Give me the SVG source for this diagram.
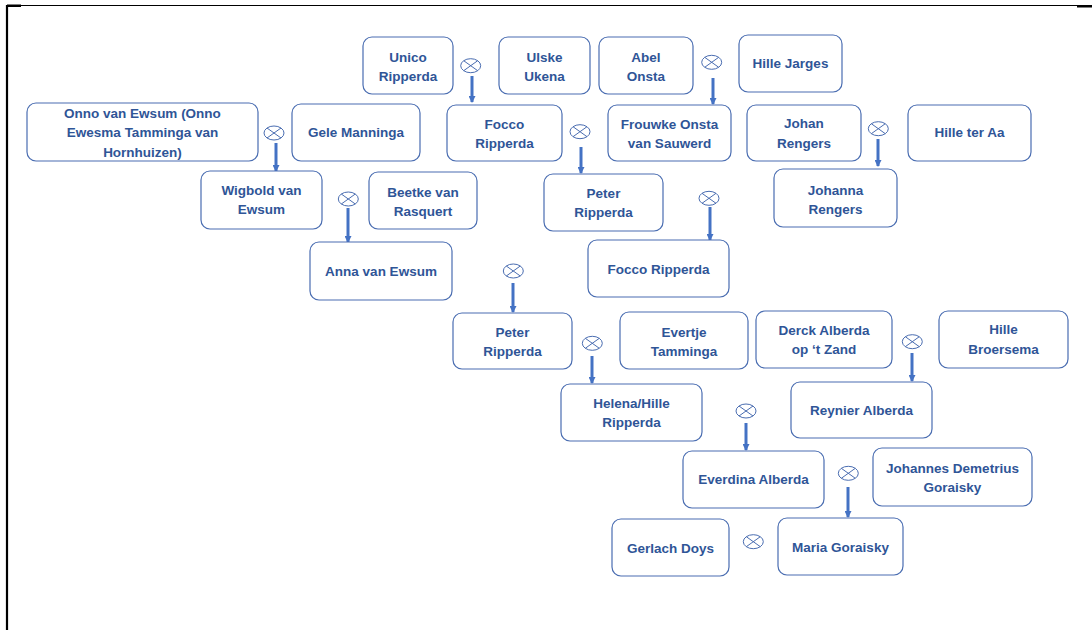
<svg xmlns="http://www.w3.org/2000/svg" width="1092" height="630" viewBox="0 0 1092 630">
<style>
.box{fill:#fff;stroke:#4A6DB1;stroke-width:1.2}
.t{font-family:"Liberation Sans",Arial,sans-serif;font-weight:bold;font-size:13.5px;fill:#2F5597;text-anchor:middle}
.x{fill:none;stroke:#4A6DB1;stroke-width:1}
.arr{stroke:#4472C4;stroke-width:3;fill:none;marker-end:url(#ah)}
.frame{stroke:#000;fill:none}
</style>
<defs>
<marker id="ah" markerUnits="userSpaceOnUse" markerWidth="8" markerHeight="7" refX="6" refY="3.5" orient="auto">
<path d="M0,0 L7,3.5 L0,7 Z" fill="#4472C4"/>
</marker>
<g id="otimes">
<ellipse cx="0" cy="0" rx="10" ry="7" class="x"/>
<path d="M-7,-5 L7,5 M-7,5 L7,-5" class="x"/>
</g>
</defs>
<rect width="1092" height="630" fill="#fff"/>
<g id="frame">
<line x1="7" y1="5" x2="7" y2="630" class="frame" stroke-width="2.2"/>
<line x1="7" y1="5.5" x2="1092" y2="5.5" class="frame" stroke-width="1.2"/>
<rect x="7" y="4.5" width="14" height="2.5" fill="#000"/>
<rect x="1077" y="5" width="15" height="2.5" fill="#000"/>
</g>
<g id="connectors">
<use href="#otimes" x="274" y="133"/>
<use href="#otimes" x="470.7" y="65.7"/>
<use href="#otimes" x="711.7" y="62.3"/>
<use href="#otimes" x="580" y="131.7"/>
<use href="#otimes" x="878.3" y="128.7"/>
<use href="#otimes" x="348.3" y="199"/>
<use href="#otimes" x="709" y="198.3"/>
<use href="#otimes" x="513.3" y="271"/>
<use href="#otimes" x="592.3" y="343.3"/>
<use href="#otimes" x="912.3" y="341.7"/>
<use href="#otimes" x="746" y="411"/>
<use href="#otimes" x="848.3" y="473.3"/>
<use href="#otimes" x="753.3" y="541.7"/>
<line x1="276" y1="143" x2="276" y2="171" class="arr"/>
<line x1="472" y1="76" x2="472" y2="102" class="arr"/>
<line x1="713" y1="78" x2="713" y2="104" class="arr"/>
<line x1="581" y1="147" x2="581" y2="173" class="arr"/>
<line x1="878" y1="139" x2="878" y2="166" class="arr"/>
<line x1="348" y1="208" x2="348" y2="242" class="arr"/>
<line x1="710" y1="207" x2="710" y2="240" class="arr"/>
<line x1="513" y1="283" x2="513" y2="312" class="arr"/>
<line x1="592" y1="356" x2="592" y2="383" class="arr"/>
<line x1="912" y1="353" x2="912" y2="381" class="arr"/>
<line x1="746" y1="423" x2="746" y2="450" class="arr"/>
<line x1="848" y1="487" x2="848" y2="517" class="arr"/>
</g>
<g id="onno"><rect x="27" y="103" width="231" height="58" rx="9" class="box"/><text class="t" x="142.5" y="118">Onno van Ewsum (Onno</text><text class="t" x="142.5" y="137">Ewesma Tamminga van</text><text class="t" x="142.5" y="156.5">Hornhuizen)</text></g>
<g id="gele"><rect x="292" y="104" width="128" height="57" rx="9" class="box"/><text class="t" x="356" y="136.5">Gele Manninga</text></g>
<g id="unico"><rect x="363" y="37" width="90" height="57" rx="9" class="box"/><text class="t" x="408" y="61.5">Unico</text><text class="t" x="408" y="80.5">Ripperda</text></g>
<g id="ulske"><rect x="499" y="37" width="91" height="57" rx="9" class="box"/><text class="t" x="544.5" y="61.5">Ulske</text><text class="t" x="544.5" y="80.5">Ukena</text></g>
<g id="abel"><rect x="599" y="37" width="94" height="57" rx="9" class="box"/><text class="t" x="646" y="61.5">Abel</text><text class="t" x="646" y="80.5">Onsta</text></g>
<g id="hillejarges"><rect x="739" y="35" width="103" height="57" rx="9" class="box"/><text class="t" x="790.5" y="68">Hille Jarges</text></g>
<g id="focco1"><rect x="447" y="105" width="115" height="56" rx="9" class="box"/><text class="t" x="504.5" y="128.8">Focco</text><text class="t" x="504.5" y="147.5">Ripperda</text></g>
<g id="frouwke"><rect x="608" y="105" width="123" height="56" rx="9" class="box"/><text class="t" x="669.5" y="128.8">Frouwke Onsta</text><text class="t" x="669.5" y="147.5">van Sauwerd</text></g>
<g id="johan"><rect x="747" y="105" width="114" height="56" rx="9" class="box"/><text class="t" x="804" y="128">Johan</text><text class="t" x="804" y="147.5">Rengers</text></g>
<g id="hilleteraa"><rect x="908" y="105" width="123" height="56" rx="9" class="box"/><text class="t" x="969.5" y="137">Hille ter Aa</text></g>
<g id="wigbold"><rect x="201" y="171" width="121" height="58" rx="9" class="box"/><text class="t" x="261.5" y="194.8">Wigbold van</text><text class="t" x="261.5" y="213.8">Ewsum</text></g>
<g id="beetke"><rect x="369" y="172" width="108" height="57" rx="9" class="box"/><text class="t" x="423" y="196.5">Beetke van</text><text class="t" x="423" y="215.5">Rasquert</text></g>
<g id="peter1"><rect x="544" y="174" width="119" height="57" rx="9" class="box"/><text class="t" x="603.5" y="198">Peter</text><text class="t" x="603.5" y="217">Ripperda</text></g>
<g id="johanna"><rect x="774" y="169" width="123" height="58" rx="9" class="box"/><text class="t" x="835.5" y="194.8">Johanna</text><text class="t" x="835.5" y="213.8">Rengers</text></g>
<g id="anna"><rect x="310" y="242" width="142" height="58" rx="9" class="box"/><text class="t" x="381" y="275.8">Anna van Ewsum</text></g>
<g id="focco2"><rect x="588" y="240" width="141" height="57" rx="9" class="box"/><text class="t" x="658.5" y="273.8">Focco Ripperda</text></g>
<g id="peter2"><rect x="453" y="313" width="119" height="56" rx="9" class="box"/><text class="t" x="512.5" y="336.5">Peter</text><text class="t" x="512.5" y="355.5">Ripperda</text></g>
<g id="evertje"><rect x="620" y="312" width="128" height="57" rx="9" class="box"/><text class="t" x="684" y="336.5">Evertje</text><text class="t" x="684" y="355.5">Tamminga</text></g>
<g id="derck"><rect x="756" y="311" width="136" height="57" rx="9" class="box"/><text class="t" x="824" y="334.8">Derck Alberda</text><text class="t" x="824" y="353.8">op ‘t Zand</text></g>
<g id="broersema"><rect x="939" y="311" width="129" height="57" rx="9" class="box"/><text class="t" x="1003.5" y="334">Hille</text><text class="t" x="1003.5" y="353.8">Broersema</text></g>
<g id="helena"><rect x="561" y="384" width="141" height="57" rx="9" class="box"/><text class="t" x="631.5" y="408">Helena/Hille</text><text class="t" x="631.5" y="427">Ripperda</text></g>
<g id="reynier"><rect x="791" y="382" width="141" height="56" rx="9" class="box"/><text class="t" x="861.5" y="414.8">Reynier Alberda</text></g>
<g id="everdina"><rect x="683" y="451" width="141" height="57" rx="9" class="box"/><text class="t" x="753.5" y="484">Everdina Alberda</text></g>
<g id="johannes"><rect x="873" y="448" width="159" height="58" rx="9" class="box"/><text class="t" x="952.5" y="473">Johannes Demetrius</text><text class="t" x="952.5" y="492">Goraisky</text></g>
<g id="gerlach"><rect x="612" y="519" width="117" height="57" rx="9" class="box"/><text class="t" x="670.5" y="552.5">Gerlach Doys</text></g>
<g id="maria"><rect x="778" y="518" width="125" height="57" rx="9" class="box"/><text class="t" x="840.5" y="551.5">Maria Goraisky</text></g>
</svg>
